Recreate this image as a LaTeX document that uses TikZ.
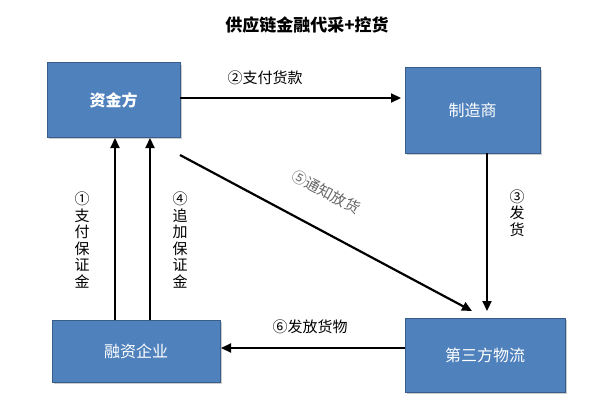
\documentclass[tikz,border=0pt]{standalone}
\usepackage{fontspec}
\setmainfont{Noto Sans CJK SC}
\usetikzlibrary{arrows.meta,shadows}
\definecolor{boxblue}{HTML}{4F81BD}
\definecolor{boxedge}{HTML}{385D8A}
\begin{document}
\begin{tikzpicture}[x=1pt,y=-1pt,
  box/.style={draw=boxedge,line width=1pt,fill=boxblue,text=white,font=\fontsize{16}{18}\selectfont,drop shadow={shadow xshift=2pt,shadow yshift=-2pt,opacity=0.4}},
  arr/.style={-{Triangle[length=10pt,width=9pt]},line width=2.2pt},
  lab/.style={font=\fontsize{15}{17}\selectfont,text=black},
  vlab/.style={lab,align=center,inner sep=0pt,font=\fontsize{15}{16.5}\selectfont}]
\useasboundingbox (0,0) rectangle (615,409);
\node[font=\bfseries\fontsize{17}{19}\selectfont] (title) at (307,25) {供应链金融代采+控货};
\node[box,minimum width=133pt,minimum height=74pt,font=\bfseries\fontsize{16}{18}\selectfont] (zj) at (113.5,100) {资金方};
\node[box,minimum width=135pt,minimum height=85pt] (zz) at (472.5,110.5) {制造商};
\node[box,minimum width=168pt,minimum height=62pt] (rz) at (136,351) {融资企业};
\node[box,minimum width=160pt,minimum height=74pt] (wl) at (485,355) {第三方物流};
\coordinate (a1) at (180,98); \coordinate (a2) at (401,98);
\draw[arr] (a1) -- (a2);
\node[lab] (l2) at (265,78) {②支付货款};
\coordinate (b1) at (487,153); \coordinate (b2) at (487,311);
\draw[arr] (b1) -- (b2);
\node[vlab] (l3) at (517,213) {③\\发\\货};
\coordinate (c1) at (180,155); \coordinate (c2) at (472,311);
\draw[arr] (c1) -- (c2);
\node[lab,text=gray!80!black,rotate=-28] (l5) at (326,192) {⑤通知放货};
\coordinate (d1) at (405,348); \coordinate (d2) at (221,348);
\draw[arr] (d1) -- (d2);
\node[lab] (l6) at (310,327) {⑥发放货物};
\coordinate (e1) at (115,320); \coordinate (e2) at (115,138);
\draw[arr] (e1) -- (e2);
\coordinate (f1) at (150,320); \coordinate (f2) at (150,138);
\draw[arr] (f1) -- (f2);
\node[vlab] (l1) at (82,240) {①\\支\\付\\保\\证\\金};
\node[vlab] (l4) at (180,240) {④\\追\\加\\保\\证\\金};
\end{tikzpicture}
\end{document}
